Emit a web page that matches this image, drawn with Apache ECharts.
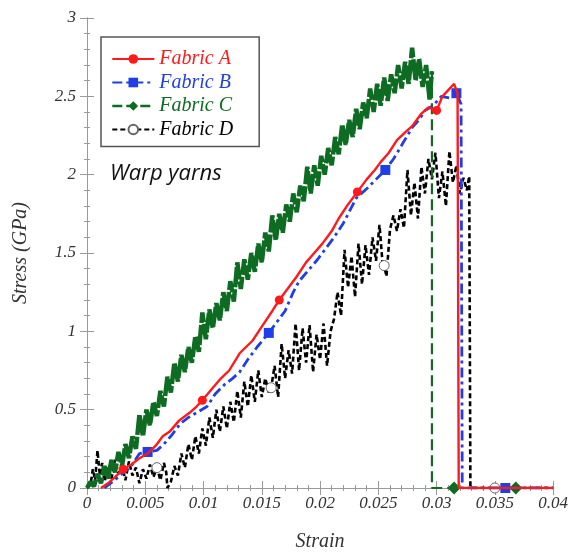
<!DOCTYPE html>
<html>
<head>
<meta charset="utf-8">
<script src="https://cdn.jsdelivr.net/npm/echarts@6/dist/echarts.min.js"></script>
<style>html,body{margin:0;padding:0;background:#fff;}#c{width:571px;height:560px;}</style>
</head>
<body>
<div id="c"></div>
<script>
// ---- axis settings ----
const xMin = 0, xMax = 0.04, xStep = 0.005;
const yMin = 0, yMax = 3, yStep = 0.5;
const seriesNames = ['Fabric A', 'Fabric B', 'Fabric C', 'Fabric D'];
const xAxisName = 'Strain';
const yAxisName = 'Stress (GPa)';
const noteText = 'Warp yarns';

// ---- Fabric A (strain, stress) ----
const lineA = [[0.0012,0],[0.0018,0.03],[0.0024,0.07],[0.0038,0.15],[0.0045,0.19],[0.0052,0.22],[0.0059,0.27],[0.0065,0.33],[0.0071,0.36],[0.0079,0.43],[0.0088,0.48],[0.0094,0.52],[0.0108,0.64],[0.0115,0.70],[0.0122,0.75],[0.0131,0.86],[0.0142,0.94],[0.0150,1.03],[0.0159,1.13],[0.0172,1.27],[0.0180,1.35],[0.0188,1.44],[0.0195,1.50],[0.0202,1.56],[0.0210,1.64],[0.0216,1.72],[0.0224,1.81],[0.0240,1.97],[0.0247,2.03],[0.0252,2.08],[0.0259,2.14],[0.0266,2.22],[0.0273,2.27],[0.0279,2.31],[0.0287,2.39],[0.0293,2.43],[0.0305,2.50],[0.0310,2.54],[0.0315,2.58],[0.0318,2.52],[0.0319,0],[0.0400,0]];
const markA = [[0.0031,0.12],[0.0099,0.56],[0.0165,1.20],[0.0232,1.89],[0.0300,2.41]];

// ---- Fabric B ----
const lineB = [[0.0015,0],[0.0022,0.04],[0.0030,0.09],[0.0038,0.14],[0.0045,0.22],[0.0060,0.24],[0.0066,0.28],[0.0073,0.34],[0.0080,0.41],[0.0087,0.45],[0.0094,0.48],[0.0103,0.52],[0.0110,0.60],[0.0118,0.66],[0.0125,0.70],[0.0131,0.74],[0.0138,0.82],[0.0146,0.90],[0.0163,1.06],[0.0170,1.13],[0.0177,1.25],[0.0182,1.32],[0.0190,1.39],[0.0198,1.46],[0.0205,1.53],[0.0212,1.60],[0.0220,1.69],[0.0231,1.85],[0.0240,1.91],[0.0248,1.97],[0.0263,2.10],[0.0271,2.20],[0.0279,2.30],[0.0285,2.35],[0.0290,2.41],[0.0297,2.44],[0.0304,2.50],[0.0311,2.49],[0.0321,2.45],[0.0322,0],[0.0400,0]];
const markB = [[0.0052,0.23],[0.0156,0.99],[0.0256,2.03],[0.0317,2.52],[0.0359,0]];

// ---- Fabric C (noisy loading band, then failure drop) ----
const lineC = [[0,0],[0.0003,0.04],[0.0006,0.01],[0.0009,0.09],[0.0012,0.03],[0.0015,0.14],[0.0018,0.06],[0.0021,0.18],[0.0024,0.10],[0.0027,0.23],[0.0030,0.14],[0.0033,0.28],[0.0036,0.19],[0.0039,0.33],[0.0042,0.25],[0.0045,0.47],[0.0048,0.33],[0.0051,0.50],[0.0054,0.40],[0.0057,0.55],[0.0060,0.46],[0.0063,0.62],[0.0066,0.52],[0.0069,0.71],[0.0072,0.61],[0.0075,0.80],[0.0078,0.68],[0.0081,0.85],[0.0084,0.74],[0.0087,0.90],[0.0090,0.80],[0.0093,0.97],[0.0096,0.87],[0.0099,1.12],[0.0102,0.95],[0.0105,1.14],[0.0108,1.02],[0.0111,1.18],[0.0114,1.07],[0.0117,1.25],[0.0120,1.13],[0.0123,1.32],[0.0126,1.19],[0.0129,1.44],[0.0132,1.27],[0.0135,1.46],[0.0138,1.33],[0.0141,1.50],[0.0144,1.38],[0.0147,1.56],[0.0150,1.44],[0.0153,1.63],[0.0156,1.51],[0.0159,1.74],[0.0162,1.58],[0.0165,1.75],[0.0168,1.63],[0.0171,1.81],[0.0174,1.70],[0.0177,1.88],[0.0180,1.76],[0.0183,1.93],[0.0186,1.83],[0.0189,2.05],[0.0192,1.88],[0.0195,2.06],[0.0198,1.93],[0.0201,2.12],[0.0204,2.00],[0.0207,2.17],[0.0210,2.06],[0.0213,2.24],[0.0216,2.13],[0.0219,2.32],[0.0222,2.19],[0.0225,2.35],[0.0228,2.24],[0.0231,2.42],[0.0234,2.29],[0.0237,2.46],[0.0240,2.36],[0.0243,2.55],[0.0246,2.40],[0.0249,2.58],[0.0252,2.44],[0.0255,2.62],[0.0258,2.47],[0.0261,2.64],[0.0264,2.52],[0.0267,2.70],[0.0270,2.55],[0.0273,2.72],[0.0276,2.58],[0.0279,2.81],[0.0282,2.60],[0.0285,2.74],[0.0288,2.56],[0.0291,2.70],[0.0294,2.48],[0.0296,2.66]];
const dropC = [[0.0296,2.66],[0.0296,0],[0.0400,0]];
const markC = [[0.0315,0],[0.0368,0]];

// ---- Fabric D ----
const lineD = [[0,0],[0.0003,0.02],[0.0005,0.12],[0.0007,0.05],[0.0009,0.24],[0.0011,0.08],[0.0013,0.16],[0.0015,0.04],[0.0018,0.13],[0.0021,0.06],[0.0024,0.18],[0.0027,0.09],[0.0030,0.14],[0.0033,0.05],[0.0036,0.17],[0.0039,0.08],[0.0042,0.13],[0.0045,0.03],[0.0048,0.12],[0.0051,0.06],[0.0054,0.15],[0.0057,0.07],[0.0063,0.05],[0.0066,0.16],[0.0068,0.10],[0.0069,0],[0.0072,0.04],[0.0075,0.14],[0.0078,0.08],[0.0081,0.22],[0.0084,0.13],[0.0087,0.28],[0.0090,0.18],[0.0093,0.33],[0.0096,0.22],[0.0099,0.38],[0.0102,0.27],[0.0105,0.45],[0.0108,0.32],[0.0111,0.50],[0.0114,0.36],[0.0117,0.52],[0.0120,0.38],[0.0123,0.55],[0.0126,0.42],[0.0129,0.62],[0.0132,0.45],[0.0135,0.68],[0.0138,0.52],[0.0141,0.72],[0.0144,0.55],[0.0147,0.75],[0.0150,0.58],[0.0153,0.70],[0.0156,0.61],[0.0161,0.78],[0.0164,0.58],[0.0167,0.92],[0.0170,0.70],[0.0173,0.88],[0.0176,0.73],[0.0179,1.05],[0.0182,0.75],[0.0185,1.02],[0.0188,0.80],[0.0191,1.04],[0.0194,0.74],[0.0197,0.98],[0.0200,0.82],[0.0203,1.05],[0.0206,0.78],[0.0209,1.00],[0.0212,1.08],[0.0215,1.25],[0.0218,1.10],[0.0221,1.52],[0.0224,1.28],[0.0227,1.48],[0.0230,1.22],[0.0233,1.56],[0.0236,1.30],[0.0239,1.55],[0.0242,1.36],[0.0245,1.60],[0.0248,1.45],[0.0251,1.68],[0.0254,1.40],[0.0257,1.35],[0.0260,1.65],[0.0263,1.74],[0.0266,1.64],[0.0269,1.78],[0.0272,1.66],[0.0275,2.03],[0.0278,1.74],[0.0281,1.95],[0.0284,1.72],[0.0287,2.05],[0.0290,1.88],[0.0293,2.10],[0.0296,1.97],[0.0299,2.14],[0.0302,1.85],[0.0305,2.02],[0.0308,1.80],[0.0311,2.15],[0.0314,1.95],[0.0317,2.06],[0.0320,1.88],[0.0323,1.98],[0.0326,1.90],[0.0328,1.99],[0.0329,0],[0.0400,0]];
const markD = [[0.0060,0.13],[0.0158,0.64],[0.0255,1.42],[0.0350,0]];

// merge line points (no symbol) with marker points (symbol), ordered by strain
function build(line, marks) {
  const all = line.map(p => ({ value: p, symbol: 'none' }))
    .concat(marks.map(p => ({ value: p })));
  return all.map((d, i) => ({ d, i }))
    .sort((a, b) => (a.d.value[0] - b.d.value[0]) || (a.i - b.i))
    .map(o => o.d);
}

const serif = '"Liberation Serif", "DejaVu Serif", serif';
const axisGrey = '#9a9a9a';
const colors = { A: '#ff1a1a', B: '#1f3fe6', C: '#0d6b22', D: '#000000' };

const chart = echarts.init(document.getElementById('c'), null, { renderer: 'canvas' });

const baseAxis = {
  axisLine: { show: true, lineStyle: { color: axisGrey, width: 1 } },
  axisTick: { show: true, inside: true, length: 7, lineStyle: { color: axisGrey } },
  minorTick: { show: true, splitNumber: 5, length: 3, lineStyle: { color: axisGrey } },
  splitLine: { show: false },
  minorSplitLine: { show: false }
};

chart.setOption({
  animation: false,
  backgroundColor: '#fff',
  grid: { left: 87, right: 16, top: 18, bottom: 72, containLabel: false },
  xAxis: [
    Object.assign({}, baseAxis, {
      type: 'value', min: xMin, max: xMax, interval: xStep, position: 'bottom',
      name: xAxisName, nameLocation: 'middle', nameGap: 44,
      nameTextStyle: { fontFamily: serif, fontStyle: 'italic', fontSize: 20, color: '#333' },
      axisLabel: { margin: 7, fontFamily: serif, fontStyle: 'italic', fontSize: 17, color: '#333' }
    }),
    Object.assign({}, baseAxis, {
      type: 'value', min: xMin, max: xMax, interval: xStep, position: 'top',
      axisLabel: { show: false }
    })
  ],
  yAxis: [
    Object.assign({}, baseAxis, {
      type: 'value', min: yMin, max: yMax, interval: yStep, position: 'left',
      name: yAxisName, nameLocation: 'middle', nameGap: 56, nameRotate: 90,
      nameTextStyle: { fontFamily: serif, fontStyle: 'italic', fontSize: 20, color: '#333' },
      axisLabel: { margin: 11, fontFamily: serif, fontStyle: 'italic', fontSize: 17, color: '#333' }
    }),
    Object.assign({}, baseAxis, {
      type: 'value', min: yMin, max: yMax, interval: yStep, position: 'right',
      axisLabel: { show: false }
    })
  ],
  legend: {
    orient: 'vertical',
    left: 101, top: 37,
    padding: [12, 26, 7, 10],
    itemWidth: 42, itemHeight: 12, itemGap: 3.5,
    borderColor: '#555', borderWidth: 1.5,
    backgroundColor: '#fff',
    textStyle: { fontFamily: serif, fontStyle: 'italic', fontSize: 20, lineHeight: 20 },
    data: [
      { name: seriesNames[0], textStyle: { color: colors.A } },
      { name: seriesNames[1], textStyle: { color: colors.B } },
      { name: seriesNames[2], textStyle: { color: colors.C }, lineStyle: { width: 2.6, type: [10, 4] } },
      { name: seriesNames[3], textStyle: { color: colors.D } }
    ]
  },
  graphic: [{
    type: 'text', left: 110, top: 163,
    style: { text: noteText, fontFamily: '"Open Sans", "Liberation Sans", sans-serif', fontStyle: 'italic', fontSize: 22, fill: '#111' }
  }],
  series: [
    {
      name: seriesNames[3], type: 'line', z: 2, data: build(lineD, markD),
      symbol: 'circle', symbolSize: 10, showSymbol: true,
      itemStyle: { color: '#fff', borderColor: '#666', borderWidth: 1 },
      lineStyle: { color: colors.D, width: 2.6, type: [5, 3] }
    },
    {
      name: seriesNames[2], type: 'line', z: 3, data: build(lineC, []),
      symbol: 'diamond', symbolSize: 13, showSymbol: true,
      itemStyle: { color: colors.C },
      lineStyle: { color: colors.C, width: 4.5, type: [20, 2] }
    },
    {
      name: seriesNames[2] + ' failure', type: 'line', z: 3, data: build(dropC, markC),
      symbol: 'diamond', symbolSize: 13, showSymbol: true,
      itemStyle: { color: colors.C },
      lineStyle: { color: colors.C, width: 2.2, type: [11, 5] }
    },
    {
      name: seriesNames[1], type: 'line', z: 4, data: build(lineB, markB),
      symbol: 'rect', symbolSize: 10, showSymbol: true,
      itemStyle: { color: colors.B },
      lineStyle: { color: colors.B, width: 2.8, type: [10, 4, 3, 4] }
    },
    {
      name: seriesNames[0], type: 'line', z: 5, data: build(lineA, markA),
      symbol: 'circle', symbolSize: 9, showSymbol: true,
      itemStyle: { color: colors.A },
      lineStyle: { color: colors.A, width: 2.4, type: 'solid' }
    }
  ]
});
</script>
</body>
</html>
